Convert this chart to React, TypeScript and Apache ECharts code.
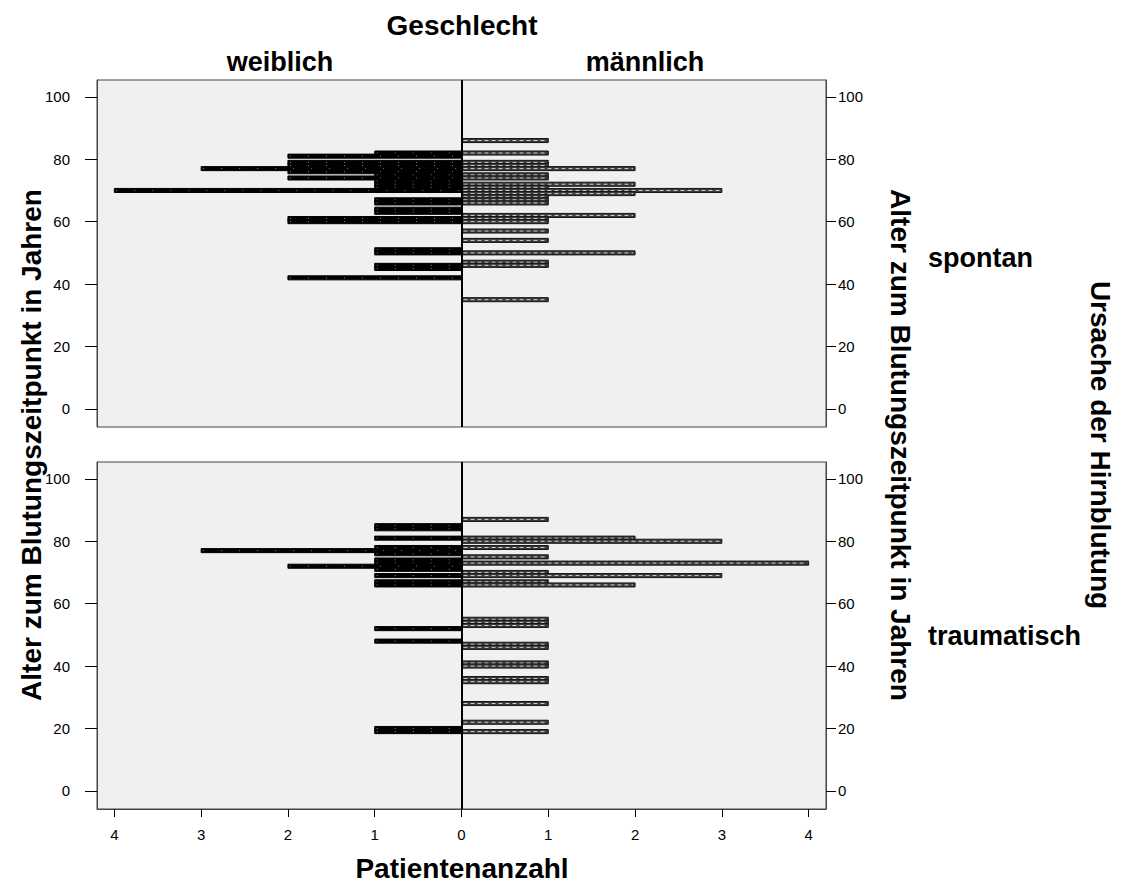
import React, { useEffect, useRef } from "react";
import * as echarts from "echarts";

// ---- Data (age in years, patient count) ----
const spontanWeiblichAlter = [82, 81, 79, 78, 77, 76, 75, 74, 73, 72, 71, 70, 67, 66, 64, 63, 61, 60, 51, 50, 46, 45, 42];
const spontanWeiblichAnzahl = [1, 2, 2, 2, 3, 2, 1, 2, 1, 1, 1, 4, 1, 1, 1, 1, 2, 2, 1, 1, 1, 1, 2];

const spontanMaennlichAlter = [86, 82, 79, 78, 77, 75, 74, 72, 71, 70, 69, 68, 67, 66, 62, 61, 60, 57, 54, 50, 47, 46, 35];
const spontanMaennlichAnzahl = [1, 1, 1, 1, 2, 1, 1, 2, 1, 3, 2, 1, 1, 1, 2, 1, 1, 1, 1, 2, 1, 1, 1];

const traumatischWeiblichAlter = [85, 84, 81, 78, 77, 76, 74, 73, 72, 71, 69, 67, 66, 52, 48, 20, 19];
const traumatischWeiblichAnzahl = [1, 1, 1, 1, 3, 1, 1, 1, 2, 1, 1, 1, 1, 1, 1, 1, 1];

const traumatischMaennlichAlter = [87, 81, 80, 78, 75, 73, 70, 69, 67, 66, 55, 54, 53, 47, 46, 41, 40, 36, 35, 28, 22, 19];
const traumatischMaennlichAnzahl = [1, 2, 3, 1, 1, 4, 1, 3, 1, 2, 1, 1, 1, 1, 1, 1, 1, 1, 1, 1, 1, 1];

const altersTicks = [0, 20, 40, 60, 80, 100];
const anzahlTicks = [-4, -3, -2, -1, 0, 1, 2, 3, 4];

const FONT = "'Liberation Sans', Arial, sans-serif";

function pairs(ages: number[], counts: number[], sign: number) {
  return ages.map((a, i) => [sign * counts[i], a]);
}

const makeRender = (female: boolean) => (params: any, api: any) => {
  const count = api.value(0);
  const age = api.value(1);
  const a = api.coord([0, age + 0.65]);
  const b = api.coord([count, age - 0.65]);
  const x = Math.min(a[0], b[0]);
  const w = Math.abs(b[0] - a[0]);
  const y = Math.min(a[1], b[1]);
  const h = Math.abs(b[1] - a[1]);
  return {
    type: "group",
    children: [
      {
        type: "rect",
        shape: { x, y, width: w, height: h },
        style: { fill: female ? "#000" : "#3a3a3a", stroke: female ? "#000" : "#151515", lineWidth: 1 },
      },
      {
        type: "line",
        shape: { x1: x + 2, y1: y + h / 2, x2: x + w - 2, y2: y + h / 2 },
        style: {
          stroke: female ? "#8a8a8a" : "#cfcfcf",
          lineWidth: 1,
          lineDash: female ? [1, 17] : [4, 3],
        },
      },
    ],
  };
};

const centerLine = {
  silent: true,
  symbol: ["none", "none"],
  label: { show: false },
  lineStyle: { color: "#000", width: 2, type: "solid" },
  data: [{ xAxis: 0 }],
};

function yAxisDef(gridIndex: number, position: string) {
  const left = position === "left";
  return {
    type: "value",
    gridIndex,
    position,
    min: -5.8,
    max: 105.4,
    splitLine: { show: false },
    axisLine: { show: true, onZero: false, lineStyle: { color: "#444" } },
    axisTick: { show: true, length: left ? 12 : 10, customValues: altersTicks, lineStyle: { color: "#000" } },
    axisLabel: { customValues: altersTicks, color: "#000", fontSize: 15, fontFamily: FONT, margin: left ? 27 : 12 },
  };
}

export default function App() {
  const ref = useRef<HTMLDivElement>(null);
  useEffect(() => {
    if (!ref.current) return;
    const chart = echarts.init(ref.current, undefined, { renderer: "svg" });
    const big = { fontSize: 28, fontWeight: "bold", fontFamily: FONT, fill: "#000" };
    const mid = { fontSize: 27, fontWeight: "bold", fontFamily: FONT, fill: "#000" };
    const option: any = {
      animation: false,
      backgroundColor: "#fff",
      textStyle: { fontFamily: FONT },
      grid: [
        { left: 97, top: 80, width: 729, height: 347, show: true, backgroundColor: "#F0F0F0", borderColor: "#444", borderWidth: 1 },
        { left: 97, top: 462, width: 729, height: 347, show: true, backgroundColor: "#F0F0F0", borderColor: "#444", borderWidth: 1 },
      ],
      xAxis: [
        { type: "value", gridIndex: 0, min: -4.2, max: 4.2, show: false },
        {
          type: "value",
          gridIndex: 1,
          min: -4.2,
          max: 4.2,
          splitLine: { show: false },
          axisLine: { show: true, onZero: false, lineStyle: { color: "#444" } },
          axisTick: { show: true, length: 8, customValues: anzahlTicks, lineStyle: { color: "#000" } },
          axisLabel: {
            customValues: anzahlTicks,
            formatter: (v: number) => String(Math.abs(v)),
            color: "#000",
            fontSize: 15,
            fontFamily: FONT,
            margin: 18,
          },
        },
      ],
      yAxis: [yAxisDef(0, "left"), yAxisDef(0, "right"), yAxisDef(1, "left"), yAxisDef(1, "right")],
      series: [
        {
          name: "spontan weiblich",
          type: "custom",
          xAxisIndex: 0,
          yAxisIndex: 0,
          renderItem: makeRender(true),
          data: pairs(spontanWeiblichAlter, spontanWeiblichAnzahl, -1),
          encode: { x: 0, y: 1 },
        },
        {
          name: "spontan männlich",
          type: "custom",
          xAxisIndex: 0,
          yAxisIndex: 0,
          renderItem: makeRender(false),
          data: pairs(spontanMaennlichAlter, spontanMaennlichAnzahl, 1),
          encode: { x: 0, y: 1 },
          markLine: centerLine,
        },
        {
          name: "traumatisch weiblich",
          type: "custom",
          xAxisIndex: 1,
          yAxisIndex: 2,
          renderItem: makeRender(true),
          data: pairs(traumatischWeiblichAlter, traumatischWeiblichAnzahl, -1),
          encode: { x: 0, y: 1 },
        },
        {
          name: "traumatisch männlich",
          type: "custom",
          xAxisIndex: 1,
          yAxisIndex: 2,
          renderItem: makeRender(false),
          data: pairs(traumatischMaennlichAlter, traumatischMaennlichAnzahl, 1),
          encode: { x: 0, y: 1 },
          markLine: centerLine,
        },
      ],
      graphic: [
        { type: "text", x: 462, y: 25, style: { ...big, text: "Geschlecht", textAlign: "center", textVerticalAlign: "middle" } },
        { type: "text", x: 280, y: 62, style: { ...mid, text: "weiblich", textAlign: "center", textVerticalAlign: "middle" } },
        { type: "text", x: 645, y: 62, style: { ...mid, text: "männlich", textAlign: "center", textVerticalAlign: "middle" } },
        { type: "text", x: 462, y: 882, style: { ...big, text: "Patientenanzahl", textAlign: "center", textVerticalAlign: "bottom" } },
        {
          type: "text", x: 31, y: 445, rotation: Math.PI / 2,
          style: { ...big, text: "Alter zum Blutungszeitpunkt in Jahren", textAlign: "center", textVerticalAlign: "middle" },
        },
        {
          type: "text", x: 900, y: 445, rotation: -Math.PI / 2,
          style: { ...big, text: "Alter zum Blutungszeitpunkt in Jahren", textAlign: "center", textVerticalAlign: "middle" },
        },
        {
          type: "text", x: 1100, y: 445, rotation: -Math.PI / 2,
          style: { ...big, text: "Ursache der Hirnblutung", textAlign: "center", textVerticalAlign: "middle" },
        },
        { type: "text", x: 928, y: 258, style: { ...mid, text: "spontan", textAlign: "left", textVerticalAlign: "middle" } },
        { type: "text", x: 928, y: 636, style: { ...mid, text: "traumatisch", textAlign: "left", textVerticalAlign: "middle" } },
      ],
    };
    chart.setOption(option);
    return () => chart.dispose();
  }, []);
  return <div ref={ref} style={{ position: "fixed", left: 0, top: 0, width: 1121, height: 883 }} />;
}
